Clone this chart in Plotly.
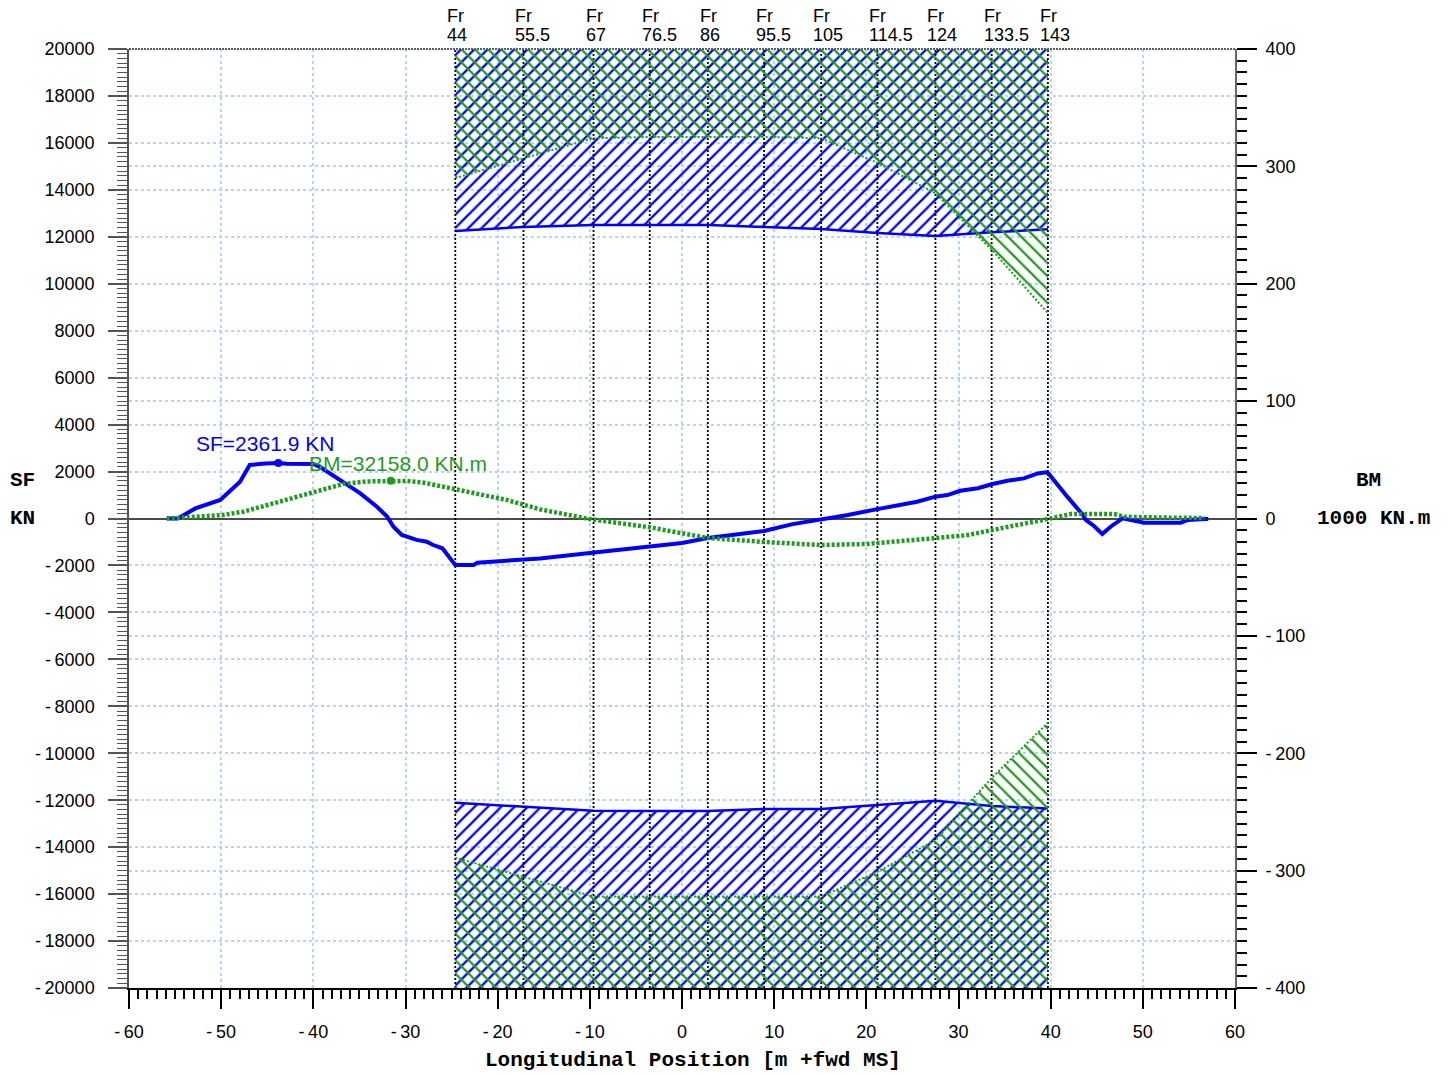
import plotly.graph_objects as go

# ---- Longitudinal strength data -------------------------------------------
# Shear force curve (position in m, +fwd of midship; SF in kN)
sf_x = [-55.9, -54.7, -52.8, -50.1, -47.95, -46.9, -45.2, -43.8, -42.9, -40.0,
        -39.3, -37.1, -34.9, -33.1, -32.0, -31.3, -30.4, -28.8, -27.7, -27.0,
        -26.0, -24.6, -22.6, -22.2, -15.4, -10.0, -3.5, 0.0, 2.8, 8.9,
        12.0, 15.1, 18.0, 21.2, 23.7, 25.5, 27.5, 28.8, 30.2, 32.1,
        33.7, 35.3, 37.1, 38.6, 39.5, 39.8, 41.8, 43.5, 43.8, 44.7,
        45.6, 46.5, 47.8, 48.35, 50.15, 54.1, 54.9, 56.85, 57.1]
sf_val = [0, 0, 430, 790, 1570, 2280, 2340, 2361.9, 2330, 2320,
          2200, 1640, 1070, 500, 80, -350, -700, -910, -990, -1130,
          -1270, -1980, -1980, -1880, -1700, -1470, -1210, -1040, -830, -530,
          -240, -60, 150, 400, 575, 715, 930, 1000, 1180, 1290,
          1470, 1610, 1710, 1920, 1970, 1900, 930, 150, -60, -320,
          -660, -350, 10, -30, -180, -180, -60, -20, -20]

# Bending moment curve (BM in 1000 kN.m)
bm_x = [-55.9, -52.0, -49.8, -47.6, -45.5, -43.2, -40.0, -36.7, -34.2, -31.6,
        -29.8, -28.0, -24.4, -19.0, -15.4, -10.0, -3.5, 2.8, 8.9, 15.1,
        20.0, 23.7, 27.3, 31.0, 33.5, 36.4, 39.7, 42.2, 46.9, 48.0,
        52.0, 56.7]
bm_val = [0, 1.5, 3.0, 5.8, 10.5, 15.8, 22.8, 29.5, 31.6, 32.158,
          31.9, 30.5, 24.3, 15.8, 7.8, -0.5, -7.5, -16.6, -20.0, -22.6,
          -21.7, -19.7, -16.9, -14.1, -9.8, -5.5, -0.4, 3.8, 3.8, 1.5,
          0.8, 0.4]

# Check frames and their allowable limits
frame_no = ["44", "55.5", "67", "76.5", "86", "95.5", "105", "114.5", "124", "133.5", "143"]
frame_x = [-24.6, -17.2, -9.6, -3.5, 2.8, 8.9, 15.1, 21.2, 27.5, 33.6, 39.7]
sf_max = [12250, 12420, 12500, 12500, 12500, 12420, 12330, 12160, 12030, 12190, 12320]
sf_min = [-12110, -12290, -12450, -12460, -12460, -12380, -12380, -12200, -12020, -12250, -12350]
bm_max = [290, 307, 324, 325, 325, 325, 324, 303, 277, 229, 175]
bm_min = [-289, -305, -322, -322, -322, -322, -322, -301, -274, -221, -174]

# Axis scales
x_range = [-60, 60]
sf_range = [-20000, 20000]
bm_range = [-400, 400]
x_ticks = list(range(-60, 61, 10))
sf_ticks = list(range(-20000, 20001, 2000))
bm_ticks = list(range(-400, 401, 100))

BLUE = "#0000ff"
GREEN = "#1f9c1f"
GRID = "#b3d6f4"
TICK_FONT = dict(family="Liberation Sans, Arial, sans-serif", size=18, color="black")
MONO_BOLD = dict(family="Liberation Mono, DejaVu Sans Mono, monospace", size=21, color="black", weight="bold")


def tick_label(v):
    return "-\u2009" + str(abs(v)) if v < 0 else str(v)


fig = go.Figure()

# ---- Hatched allowable-limit bands ----------------------------------------
def hatch(xs, ys, edge, yaxis, color, shape):
    fig.add_trace(go.Scatter(
        x=xs + xs[::-1], y=ys + [edge] * len(xs), yaxis=yaxis,
        mode="none", fill="toself", fillcolor=color,
        fillpattern=dict(shape=shape, fgcolor=color, bgcolor="rgba(255,255,255,0)",
                         fgopacity=1, fillmode="replace",
                         size=9.4, solidity=0.24),
        hoverinfo="skip"))

hatch(frame_x, sf_max, sf_range[1], "y", BLUE, "/")
hatch(frame_x, sf_min, sf_range[0], "y", BLUE, "/")
hatch(frame_x, bm_max, bm_range[1], "y2", GREEN, "\\")
hatch(frame_x, bm_min, bm_range[0], "y2", GREEN, "\\")

# Limit lines
for lim in (bm_max, bm_min):
    fig.add_trace(go.Scatter(x=frame_x, y=lim, yaxis="y2", mode="lines",
                             line=dict(color=GREEN, width=2, dash="2px,2px"),
                             hoverinfo="skip"))
for lim in (sf_max, sf_min):
    fig.add_trace(go.Scatter(x=frame_x, y=lim, yaxis="y", mode="lines",
                             line=dict(color=BLUE, width=2.5), hoverinfo="skip"))

# Vertical frame lines
fx, fy = [], []
for x in frame_x:
    fx += [x, x, None]
    fy += [sf_range[0], sf_range[1], None]
fig.add_trace(go.Scatter(x=fx, y=fy, mode="lines",
                         line=dict(color="black", width=1.8, dash="2px,2px"),
                         hoverinfo="skip"))

# ---- SF and BM curves -------------------------------------------------------
fig.add_trace(go.Scatter(x=bm_x, y=bm_val, yaxis="y2", mode="lines",
                         line=dict(color=GREEN, width=4.5, dash="3px,2px")))
fig.add_trace(go.Scatter(x=sf_x, y=sf_val, yaxis="y", mode="lines",
                         line=dict(color=BLUE, width=4)))

# Peak markers
i_sf = max(range(len(sf_val)), key=lambda i: abs(sf_val[i]))
i_bm = max(range(len(bm_val)), key=lambda i: abs(bm_val[i]))
fig.add_trace(go.Scatter(x=[sf_x[i_sf]], y=[sf_val[i_sf]], yaxis="y", mode="markers",
                         marker=dict(color=BLUE, size=8)))
fig.add_trace(go.Scatter(x=[bm_x[i_bm]], y=[bm_val[i_bm]], yaxis="y2", mode="markers",
                         marker=dict(color=GREEN, size=8)))

annotations = [
    dict(x=sf_x[i_sf], y=sf_val[i_sf], xref="x", yref="y",
         text=f"SF={sf_val[i_sf]:.1f} KN", showarrow=False,
         xanchor="center", yanchor="middle", xshift=-13, yshift=20,
         font=dict(family="Liberation Sans, Arial, sans-serif", size=21, color=BLUE)),
    dict(x=bm_x[i_bm], y=bm_val[i_bm], xref="x", yref="y2",
         text=f"BM={bm_val[i_bm] * 1000:.1f} KN.m", showarrow=False,
         xanchor="center", yanchor="middle", xshift=7, yshift=17,
         font=dict(family="Liberation Sans, Arial, sans-serif", size=21, color=GREEN)),
]

# Frame labels above the plot
LBL_FONT = dict(family="Liberation Sans Narrow, Liberation Sans, Arial, sans-serif", size=18, color="black")
for x, fr in zip(frame_x, frame_no):
    annotations.append(dict(x=x, y=1, xref="x", yref="paper", text="Fr", showarrow=False,
                            xanchor="left", yanchor="middle", xshift=-10, yshift=33,
                            font=LBL_FONT))
    annotations.append(dict(x=x, y=1, xref="x", yref="paper", text=fr, showarrow=False,
                            xanchor="left", yanchor="middle", xshift=-10, yshift=14,
                            font=LBL_FONT))

# Axis titles
annotations += [
    dict(x=-0.0967, y=0.541, xref="paper", yref="paper", text="SF", showarrow=False,
         xanchor="center", yanchor="middle", font=MONO_BOLD),
    dict(x=-0.0967, y=0.4995, xref="paper", yref="paper", text="KN", showarrow=False,
         xanchor="center", yanchor="middle", font=MONO_BOLD),
    dict(x=1.1203, y=0.541, xref="paper", yref="paper", text="BM", showarrow=False,
         xanchor="center", yanchor="middle", font=MONO_BOLD),
    dict(x=1.1248, y=0.4995, xref="paper", yref="paper", text="1000 KN.m", showarrow=False,
         xanchor="center", yanchor="middle", font=MONO_BOLD),
    dict(x=0.51, y=-0.0767, xref="paper", yref="paper",
         text="Longitudinal Position [m +fwd MS]", showarrow=False,
         xanchor="center", yanchor="middle", font=MONO_BOLD),
]

fig.update_layout(
    width=1449, height=1075,
    margin=dict(l=129, r=214, t=49, b=87),
    paper_bgcolor="white", plot_bgcolor="white",
    showlegend=False,
    annotations=annotations,
    shapes=[dict(type="line", xref="paper", yref="paper", x0=0, x1=1, y0=1, y1=1,
                 line=dict(color="#555f6a", width=2, dash="2px,1px"))],
    xaxis=dict(range=x_range, tickmode="array", tickvals=x_ticks,
               ticktext=[tick_label(v) for v in x_ticks],
               showgrid=True, gridcolor=GRID, griddash="dot", gridwidth=1.5,
               zeroline=False, showline=True, linecolor="black", linewidth=2,
               ticks="outside", ticklen=19, tickwidth=2, tickcolor="black",
               ticklabelstandoff=7, tickfont=TICK_FONT,
               minor=dict(dtick=1, ticks="outside", ticklen=9, tickwidth=1.5,
                          tickcolor="black", showgrid=False)),
    yaxis=dict(range=sf_range, tickmode="array", tickvals=sf_ticks,
               ticktext=[tick_label(v) for v in sf_ticks],
               showgrid=True, gridcolor=GRID, griddash="dot", gridwidth=1.5,
               zeroline=True, zerolinecolor="#4a4a4a", zerolinewidth=1.5,
               showline=True, linecolor="#555555", linewidth=1.5,
               ticks="outside", ticklen=19, tickwidth=1.5, tickcolor="#555555",
               ticklabelstandoff=10, tickfont=TICK_FONT,
               minor=dict(dtick=200, ticks="outside", ticklen=10, tickwidth=1,
                          tickcolor="#555555", showgrid=False)),
    yaxis2=dict(range=bm_range, overlaying="y", side="right", tickmode="array",
                tickvals=bm_ticks, ticktext=[tick_label(v) for v in bm_ticks],
                showgrid=True, gridcolor=GRID, griddash="dot", gridwidth=1.5,
                zeroline=False, showline=True, linecolor="#5d6975", linewidth=2,
                ticks="outside", ticklen=20, tickwidth=2, tickcolor="black",
                ticklabelstandoff=5, tickfont=TICK_FONT,
                minor=dict(dtick=10, ticks="outside", ticklen=10, tickwidth=2,
                           tickcolor="black", showgrid=False)),
)

fig.write_html("out.html")
